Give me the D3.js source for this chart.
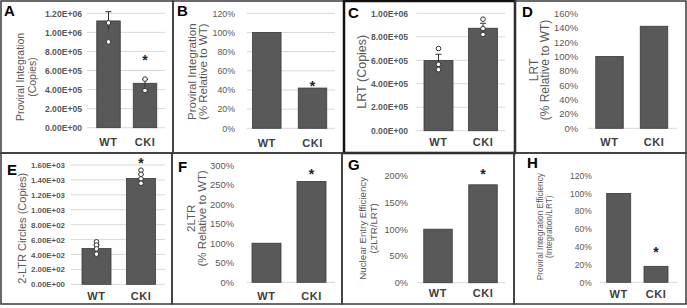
<!DOCTYPE html>
<html><head><meta charset="utf-8">
<script src="https://cdn.jsdelivr.net/npm/d3@7"></script>
<style>html,body{margin:0;padding:0;background:#fff;}svg{display:block;}</style>
</head><body>
<script>
// ---------------- DATA ----------------
const categories = ["WT", "CKI"];
const panelLetters = ["A", "B", "C", "D", "E", "F", "G", "H"];

// A: Proviral integration (copies)
const integrationCopies = [1120000, 466000];
const integrationCopiesErr = [97000, 40000];
const integrationCopiesPts = [[1100000, 900000], [510000, 390000]];
const integrationCopiesTicks = [0, 200000, 400000, 600000, 800000, 1000000, 1200000];
const integrationCopiesStars = ["", "*"];
const integrationCopiesTitle = ["Proviral Integration", "(Copies)"];

// B: Proviral integration (% relative to WT)
const integrationPct = [100, 42];
const integrationPctTicks = [0, 20, 40, 60, 80, 100, 120];
const integrationPctStars = ["", "*"];
const integrationPctTitle = ["Proviral Integration", "(% Relative to WT)"];

// C: LRT (copies)
const lrtCopies = [597000, 873000];
const lrtCopiesErr = [54000, 42000];
const lrtCopiesPts = [[700000, 565000, 520000], [950000, 870000, 820000]];
const lrtCopiesTicks = [0, 200000, 400000, 600000, 800000, 1000000];
const lrtCopiesStars = ["", ""];
const lrtCopiesTitle = ["LRT (Copies)"];

// D: LRT (% relative to WT)
const lrtPct = [100, 142];
const lrtPctTicks = [0, 20, 40, 60, 80, 100, 120, 140, 160];
const lrtPctStars = ["", ""];
const lrtPctTitle = ["LRT", "(% Relative to WT)"];

// E: 2-LTR circles (copies)
const circlesCopies = [480, 1420];
const circlesCopiesErr = [50, 55];
const circlesCopiesPts = [[570, 525, 475, 405], [1530, 1475, 1415, 1355]];
const circlesCopiesTicks = [0, 200, 400, 600, 800, 1000, 1200, 1400, 1600];
const circlesCopiesStars = ["", "*"];
const circlesCopiesTitle = ["2-LTR Circles (Copies)"];

// F: 2LTR (% relative to WT)
const circlesPct = [100, 258];
const circlesPctTicks = [0, 50, 100, 150, 200, 250, 300];
const circlesPctStars = ["", "*"];
const circlesPctTitle = ["2LTR", "(% Relative to WT)"];

// G: Nuclear entry efficiency
const nuclearEntryPct = [100, 183];
const nuclearEntryPctTicks = [0, 50, 100, 150, 200];
const nuclearEntryPctStars = ["", "*"];
const nuclearEntryPctTitle = ["Nuclear Entry Efficiency", "(2LTR/LRT)"];

// H: Proviral integration efficiency
const integrationEffPct = [100, 18];
const integrationEffPctTicks = [0, 20, 40, 60, 80, 100, 120];
const integrationEffPctStars = ["", "*"];
const integrationEffPctTitle = ["Proviral Integration Efficiency", "(Integration/LRT)"];

// ---------------- FORMATS ----------------
function sci(d) {
  const [m, e] = d.toExponential(2).split("e");
  const n = +e;
  return m + "E" + (n < 0 ? "-" : "+") + String(Math.abs(n)).padStart(2, "0");
}
const pct = d => d + "%";

// ---------------- LAYOUT (positions/styles only) ----------------
const panels = [
  { letter: panelLetters[0], values: integrationCopies, err: integrationCopiesErr, pts: integrationCopiesPts, ticks: integrationCopiesTicks, fmt: sci, stars: integrationCopiesStars, title: integrationCopiesTitle,
    box: [1, 1, 173, 153], bw: 1.5, lx: 4, ly: 16, c: [108.5, 145], barW: 23.5, gx: [87, 165], y0: 127.7, y1: 13.3,
    lblR: 82, tfs: 8.6, tw: "bold", grid: true, tx: [20, 32], ty: 77, tts: 10.5, xly: 142, starOff: 22 },
  { letter: panelLetters[1], values: integrationPct, err: null, pts: null, ticks: integrationPctTicks, fmt: pct, stars: integrationPctStars, title: integrationPctTitle,
    box: [173, 1, 344, 153], bw: 1.5, lx: 177, ly: 16, c: [266.8, 312.5], barW: 28.5, gx: [247, 335], y0: 128.3, y1: 13.3,
    lblR: 235, tfs: 8.8, tw: "normal", grid: true, tx: [191.7, 203.3], ty: 71.7, tts: 11.5, xly: 143, starOff: 5 },
  { letter: panelLetters[2], values: lrtCopies, err: lrtCopiesErr, pts: lrtCopiesPts, ticks: lrtCopiesTicks, fmt: sci, stars: lrtCopiesStars, title: lrtCopiesTitle,
    box: [344, 1, 515, 153], bw: 2.5, lx: 348, ly: 18, c: [438.5, 483], barW: 29, gx: [416, 505], y0: 130.7, y1: 13.3,
    lblR: 408, tfs: 8.6, tw: "bold", grid: true, tx: [361.7], ty: 71.7, tts: 12.5, xly: 142, starOff: 0 },
  { letter: panelLetters[3], values: lrtPct, err: null, pts: null, ticks: lrtPctTicks, fmt: pct, stars: lrtPctStars, title: lrtPctTitle,
    box: [515, 1, 686, 153], bw: 1.5, lx: 522, ly: 17, c: [609.5, 654], barW: 27.5, gx: [588, 677], y0: 128.3, y1: 13.3,
    lblR: 578, tfs: 9.4, tw: "normal", grid: false, tx: [534, 545], ty: 70, tts: 12, xly: 142, starOff: 0 },
  { letter: panelLetters[4], values: circlesCopies, err: circlesCopiesErr, pts: circlesCopiesPts, ticks: circlesCopiesTicks, fmt: sci, stars: circlesCopiesStars, title: circlesCopiesTitle,
    box: [1, 153, 172, 304], bw: 1.5, lx: 7, ly: 175, c: [96.5, 141], barW: 29, gx: [70.7, 165], y0: 284.3, y1: 165,
    lblR: 65, tfs: 7.9, tw: "bold", grid: true, tx: [21.7], ty: 228.3, tts: 11, xly: 296, starOff: 10 },
  { letter: panelLetters[5], values: circlesPct, err: null, pts: null, ticks: circlesPctTicks, fmt: pct, stars: circlesPctStars, title: circlesPctTitle,
    box: [172, 153, 342, 304], bw: 1.5, lx: 178, ly: 172, c: [266.5, 311.5], barW: 29, gx: [247, 335], y0: 282.3, y1: 165,
    lblR: 234, tfs: 9.4, tw: "normal", grid: false, tx: [190.7, 201.7], ty: 218.3, tts: 11.5, xly: 296, starOff: 10 },
  { letter: panelLetters[6], values: nuclearEntryPct, err: null, pts: null, ticks: nuclearEntryPctTicks, fmt: pct, stars: nuclearEntryPctStars, title: nuclearEntryPctTitle,
    box: [342, 153, 514, 304], bw: 1.5, lx: 348, ly: 170, c: [438, 483], barW: 28.5, gx: [417, 505], y0: 282.7, y1: 175.7,
    lblR: 408, tfs: 9.2, tw: "normal", grid: false, tx: [362.3, 373.3], ty: 228.3, tts: 9.7, xly: 293.5, starOff: 13.5 },
  { letter: panelLetters[7], values: integrationEffPct, err: null, pts: null, ticks: integrationEffPctTicks, fmt: pct, stars: integrationEffPctStars, title: integrationEffPctTitle,
    box: [514, 153, 686, 304], bw: 1.5, lx: 527, ly: 168, c: [618.7, 656], barW: 24, gx: [600, 677], y0: 282.3, y1: 175.7,
    lblR: 591.7, tfs: 8.5, tw: "normal", grid: false, tx: [540, 549.3], ty: 226.7, tts: 8.3, xly: 294, starOff: 17 }
];

const W = 687, H = 308;
const FONT = "'Liberation Sans', Arial, sans-serif";
const svg = d3.select("body").append("svg").attr("width", W).attr("height", H)
  .style("font-family", FONT);
svg.append("rect").attr("width", W).attr("height", H).attr("fill", "#fff");

panels.forEach(p => {
  const g = svg.append("g");
  const step = p.c[1] - p.c[0];
  const x = d3.scaleBand().domain(categories)
    .range([p.c[0] - step / 2, p.c[1] + step / 2])
    .paddingInner(1 - p.barW / step).paddingOuter((1 - p.barW / step) / 2);
  const yMax = p.ticks[p.ticks.length - 1];
  const y = d3.scaleLinear().domain([0, yMax]).range([p.y0, p.y1]);

  // gridlines
  const gridVals = p.grid ? p.ticks : [0];
  g.selectAll("line.grid").data(gridVals).join("line")
    .attr("x1", p.gx[0]).attr("x2", p.gx[1])
    .attr("y1", d => y(d)).attr("y2", d => y(d))
    .attr("stroke", "#d9d9d9").attr("stroke-width", 1);

  // y axis labels
  const ax = g.append("g").attr("transform", `translate(${p.gx[0]},0)`)
    .call(d3.axisLeft(y).tickValues(p.ticks).tickFormat(p.fmt).tickSize(0).tickPadding(p.gx[0] - p.lblR));
  ax.select(".domain").remove();
  ax.selectAll("text").attr("fill", "#595959").style("font-size", p.tfs + "px")
    .style("font-weight", p.tw).style("font-family", FONT);

  // bars
  g.selectAll("rect.bar").data(p.values).join("rect")
    .attr("x", (d, i) => x(categories[i]))
    .attr("width", x.bandwidth())
    .attr("y", d => y(d))
    .attr("height", d => y(0) - y(d))
    .attr("fill", "#595959").attr("stroke", "#3a3a3a").attr("stroke-width", 0.8);

  const cx = i => x(categories[i]) + x.bandwidth() / 2;

  // error bars
  if (p.err) {
    p.err.forEach((e, i) => {
      const v = p.values[i];
      g.append("line").attr("x1", cx(i)).attr("x2", cx(i))
        .attr("y1", y(v - e)).attr("y2", y(v + e)).attr("stroke", "#333").attr("stroke-width", 1);
      g.append("line").attr("x1", cx(i) - 3).attr("x2", cx(i) + 3)
        .attr("y1", y(v + e)).attr("y2", y(v + e)).attr("stroke", "#333").attr("stroke-width", 1);
    });
  }
  // points
  if (p.pts) {
    p.pts.forEach((arr, i) => {
      g.selectAll(null).data(arr).join("circle")
        .attr("cx", cx(i)).attr("cy", d => y(d)).attr("r", 2.3)
        .attr("fill", "#fff").attr("stroke", "#333").attr("stroke-width", 1);
    });
  }
  // stars
  p.stars.forEach((s, i) => {
    if (!s) return;
    const top = p.pts ? Math.max(p.values[i] + (p.err ? p.err[i] : 0), d3.max(p.pts[i])) : p.values[i];
    const cy = y(top) - p.starOff;
    g.append("text").attr("x", cx(i)).attr("y", cy + 7.5).attr("text-anchor", "middle")
      .attr("font-size", 14).attr("font-weight", "bold").attr("fill", "#222").text(s);
  });

  // x labels
  categories.forEach((c, i) => {
    g.append("text").attr("x", cx(i)).attr("y", p.xly).attr("dy", "0.35em")
      .attr("text-anchor", "middle").attr("font-size", 11).attr("font-weight", "bold")
      .attr("letter-spacing", 0.6).attr("fill", "#404040").text(c);
  });

  // y title
  p.title.forEach((t, k) => {
    g.append("text").attr("transform", `translate(${p.tx[k]},${p.ty}) rotate(-90)`)
      .attr("text-anchor", "middle").attr("dy", "0.35em")
      .attr("font-size", p.tts).attr("fill", "#595959").text(t);
  });

  // letter
  g.append("text").attr("x", p.lx).attr("y", p.ly).attr("font-size", 15).attr("font-weight", "bold")
    .attr("fill", "#000").text(p.letter);

  // border
  svg.append("rect").attr("x", p.box[0]).attr("y", p.box[1])
    .attr("width", p.box[2] - p.box[0]).attr("height", p.box[3] - p.box[1])
    .attr("fill", "none").attr("stroke", p.bw > 2 ? "#111" : "#3a3a3a").attr("stroke-width", p.bw);
});
</script>
</body></html>
